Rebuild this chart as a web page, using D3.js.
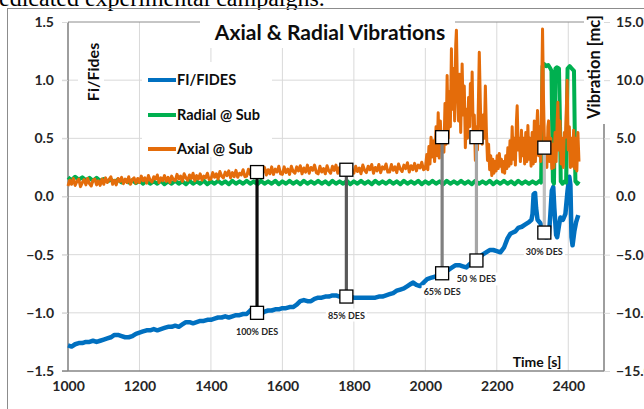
<!DOCTYPE html>
<html><head><meta charset="utf-8">
<script src="https://cdn.jsdelivr.net/npm/d3@7"></script>
<style>body{margin:0;background:#fff;overflow:hidden}svg{display:block}</style>
</head><body>
<svg id="c" width="644" height="409"></svg>
<script>
// ---------- data ----------
const xTicks = [1000, 1200, 1400, 1600, 1800, 2000, 2200, 2400];
const leftTicks = [-1.5, -1.0, -0.5, 0.0, 0.5, 1.0, 1.5];
const rightTicks = [-15, -10, -5, 0, 5, 10, 15];
const seriesNames = ["FI/FIDES", "Radial @ Sub", "Axial @ Sub"];

// FI/FIDES (left axis) [time, value]
const fidesPoints = [
[1000,-1.28],[1010,-1.29],[1020,-1.27],[1030,-1.26],[1040,-1.26],[1050,-1.25],[1060,-1.25],[1070,-1.24],[1080,-1.25],[1090,-1.24],
[1100,-1.23],[1110,-1.22],[1120,-1.21],[1130,-1.19],[1140,-1.19],[1150,-1.2],[1160,-1.21],[1170,-1.21],[1180,-1.2],[1190,-1.18],
[1200,-1.17],[1210,-1.16],[1220,-1.15],[1230,-1.15],[1240,-1.14],[1250,-1.15],[1260,-1.14],[1270,-1.13],[1280,-1.12],[1290,-1.12],
[1300,-1.11],[1310,-1.12],[1320,-1.1],[1330,-1.08],[1340,-1.08],[1350,-1.09],[1360,-1.08],[1370,-1.07],[1380,-1.07],[1390,-1.06],
[1400,-1.06],[1410,-1.05],[1420,-1.04],[1430,-1.04],[1440,-1.03],[1450,-1.04],[1460,-1.03],[1470,-1.02],[1480,-1.02],[1490,-1.01],
[1500,-1.01],[1510,-0.98],[1515,-0.97],[1520,-0.98],[1530,-1.0],[1540,-1.01],[1550,-0.99],[1560,-0.98],[1570,-0.98],[1580,-0.97],
[1590,-0.97],[1600,-0.96],[1610,-0.96],[1620,-0.95],[1630,-0.95],[1640,-0.93],[1650,-0.9],[1660,-0.89],[1670,-0.9],[1680,-0.9],
[1690,-0.88],[1700,-0.87],[1710,-0.87],[1720,-0.86],[1730,-0.86],[1740,-0.85],[1750,-0.85],[1760,-0.86],[1770,-0.86],[1780,-0.86],
[1790,-0.86],[1800,-0.87],[1810,-0.87],[1820,-0.87],[1830,-0.87],[1840,-0.87],[1850,-0.87],[1860,-0.87],[1870,-0.86],[1880,-0.86],
[1890,-0.85],[1900,-0.84],[1910,-0.83],[1920,-0.81],[1930,-0.8],[1940,-0.79],[1950,-0.77],[1960,-0.75],[1966,-0.74],[1975,-0.76],
[1985,-0.77],[1995,-0.74],[2005,-0.71],[2015,-0.7],[2025,-0.69],[2035,-0.68],[2047,-0.66],[2055,-0.65],[2065,-0.63],[2075,-0.61],
[2085,-0.59],[2095,-0.59],[2105,-0.6],[2115,-0.61],[2125,-0.58],[2135,-0.56],[2143,-0.55],[2150,-0.53],[2160,-0.5],[2170,-0.48],
[2180,-0.46],[2190,-0.46],[2200,-0.47],[2210,-0.48],[2220,-0.44],[2230,-0.36],[2238,-0.32],[2245,-0.31],[2252,-0.3],[2260,-0.27],
[2270,-0.26],[2280,-0.24],[2290,-0.22],[2297,-0.2],[2300,-0.15],[2303,0.02],[2307,0.03],[2310,-0.1],[2314,-0.2],[2322,-0.23],
[2330,-0.3],[2336,-0.35],[2341,-0.35],[2346,-0.33],[2350,-0.15],[2354,0.05],[2358,0.08],[2361,-0.1],[2366,-0.33],[2369,-0.35],
[2374,-0.25],[2378,-0.18],[2385,-0.2],[2392,-0.15],[2398,0.05],[2403,0.17],[2406,0.1],[2409,-0.35],[2412,-0.42],[2417,-0.3],
[2422,-0.22],[2428,-0.16]
];

// Radial @ Sub (right axis): values every 10 s from 1000 to 2320, then extra points
const radialStart = 1000, radialStep = 10;
const radialBase = [
1.65,1.4,1.7,1.45,1.65,1.4,1.6,1.35,1.6,1.35,
1.5,1.3,1.45,1.25,1.45,1.2,1.4,1.2,1.4,1.15,
1.35,1.1,1.35,1.1,1.3,1.1,1.35,1.05,1.3,1.1,
1.35,1.1,1.3,1.05,1.35,1.1,1.3,1.1,1.35,1.05,
1.3,1.1,1.35,1.1,1.3,1.05,1.35,1.1,1.3,1.1,
1.35,1.1,1.3,1.05,1.35,1.1,1.3,1.1,1.35,1.05,
1.3,1.1,1.35,1.1,1.3,1.05,1.35,1.1,1.3,1.1,
1.35,1.1,1.3,1.05,1.35,1.1,1.3,1.1,1.35,1.05,
1.3,1.1,1.35,1.1,1.3,1.05,1.35,1.1,1.3,1.1,
1.35,1.1,1.3,1.05,1.35,1.1,1.3,1.1,1.35,1.05,
1.3,1.1,1.35,1.1,1.3,1.05,1.35,1.1,1.3,1.1,
1.35,1.1,1.3,1.05,1.35,1.1,1.3,1.1,1.35,1.05,
1.3,1.1,1.35,1.1,1.3,1.05,1.35,1.1,1.3,1.1,
1.3,1.1,1.35
];
const radialTail = [
[2324,1.2],[2326,6.0],[2328,11.2],[2332,11.4],[2338,11.2],[2344,11.3],[2350,11.0],[2353,10.8],[2355,6.0],[2357,1.3],
[2360,1.1],[2362,6.0],[2364,11.0],[2368,11.1],[2374,11.0],[2377,6.0],[2379,1.3],[2384,1.1],[2390,1.3],[2394,1.2],
[2396,6.0],[2398,11.0],[2404,11.2],[2410,11.0],[2416,10.8],[2418,6.0],[2420,1.3],[2425,1.1],[2430,1.3]
];

// Axial @ Sub (right axis): values every 5 s from 1000 to 1995, then extra points
const axialStart = 1000, axialStep = 5;
const axialBase = [
0.9,1.4,1.05,1.55,0.95,1.3,1.5,0.85,1.2,1.45,1.0,1.55,1.1,0.9,1.4,1.5,1.0,1.35,0.95,1.5,
1.05,1.6,1.2,1.45,1.7,1.05,1.4,1.0,1.55,1.3,1.65,1.1,1.5,1.2,1.7,1.05,1.45,1.6,1.15,1.55,
1.2,1.75,1.35,1.6,1.15,1.8,1.4,1.25,1.7,1.5,1.85,1.2,1.6,1.35,1.8,1.3,1.65,1.2,1.75,1.45,
1.35,1.9,1.5,1.75,1.3,1.95,1.6,1.4,1.85,1.55,2.0,1.35,1.8,1.5,1.95,1.4,1.75,1.6,2.0,1.45,
1.5,2.05,1.65,1.95,1.5,2.15,1.75,1.6,2.1,1.8,2.2,1.6,2.05,1.7,2.25,1.65,2.0,1.85,2.3,1.7,
1.75,2.35,1.9,2.2,1.8,2.45,2.0,1.85,2.4,2.05,2.5,1.85,2.3,1.95,2.55,1.9,2.35,2.1,2.6,1.95,
1.9,2.55,2.05,2.35,1.9,2.6,2.15,2.0,2.55,2.2,2.65,1.95,2.45,2.1,2.7,2.0,2.5,2.25,2.7,2.05,
1.95,2.6,2.1,2.4,1.95,2.65,2.2,2.0,2.6,2.25,2.7,2.0,2.5,2.15,2.75,2.0,2.55,2.3,2.7,2.1,
2.0,2.6,2.15,2.45,1.95,2.7,2.25,2.05,2.6,2.3,2.75,2.0,2.5,2.2,2.75,2.05,2.55,2.35,2.8,2.1,
2.1,2.75,2.25,2.55,2.05,2.8,2.35,2.15,2.7,2.4,2.9,2.1,2.65,2.3,2.85,2.2,2.7,2.45,2.95,2.3
];
const axialTail = [
[2000,2.4],[2004,3.6],[2007,2.3],[2010,4.3],[2013,2.8],[2016,5.1],[2019,3.4],[2023,4.8],[2026,3.0],[2030,6.0],
[2033,3.5],[2036,7.2],[2039,3.3],[2042,6.5],[2045,4.0],[2049,5.5],[2052,3.8],[2055,8.0],[2058,4.5],[2061,10.4],
[2064,5.0],[2067,9.0],[2070,6.0],[2073,12.7],[2076,7.5],[2079,11.0],[2082,6.5],[2085,13.0],[2087,14.3],[2090,9.0],
[2093,6.5],[2096,10.5],[2099,5.5],[2103,11.4],[2106,7.0],[2109,9.5],[2112,4.2],[2115,7.5],[2118,5.0],[2121,8.5],
[2124,6.0],[2126,9.7],[2129,7.0],[2131,10.7],[2134,5.5],[2137,7.0],[2140,3.1],[2143,6.0],[2146,4.0],[2149,9.0],
[2151,12.4],[2154,8.0],[2156,5.5],[2159,4.5],[2162,7.0],[2165,5.0],[2168,9.5],[2171,5.5],[2174,3.1],[2177,4.5],
[2180,2.3],[2183,3.5],[2186,1.8],[2189,3.2],[2192,2.0],[2195,3.0],[2198,2.2],[2201,3.5],[2204,2.4],[2207,3.7],
[2210,2.6],[2213,3.2],[2216,2.1],[2219,3.0],[2222,2.0],[2225,3.5],[2228,2.4],[2231,4.2],[2234,2.6],[2237,4.8],
[2240,2.8],[2243,6.0],[2246,3.2],[2249,5.0],[2252,2.7],[2255,6.5],[2257,7.8],[2260,4.0],[2263,5.0],[2266,3.0],
[2269,5.7],[2272,3.5],[2275,5.0],[2278,2.8],[2281,5.5],[2284,3.0],[2287,6.1],[2290,3.2],[2293,5.0],[2296,2.6],
[2299,5.5],[2302,2.8],[2305,6.5],[2308,3.0],[2311,5.5],[2314,7.4],[2317,3.5],[2320,6.0],[2323,3.0],[2326,10.0],
[2328,14.4],[2331,8.0],[2334,3.7],[2337,5.0],[2340,2.5],[2343,6.0],[2345,6.5],[2348,3.0],[2351,5.0],[2354,2.4],
[2357,4.5],[2360,2.5],[2363,5.5],[2366,3.0],[2369,6.5],[2371,8.1],[2374,4.0],[2377,6.5],[2380,2.8],[2383,5.0],
[2386,2.5],[2389,5.5],[2392,5.1],[2395,8.0],[2397,10.0],[2400,4.0],[2403,6.0],[2406,2.5],[2409,5.0],[2412,2.6],
[2415,5.7],[2418,2.4],[2421,5.0],[2424,2.2],[2427,5.5],[2430,3.0]
];

// DES annotations
const desLabels = ["100% DES", "85% DES", "65% DES", "50 % DES", "30% DES"];
const desTimes = [1529, 1779, 2047, 2143, 2333];
const desAxial = [2.1, 2.3, 5.1, 5.1, 4.2];
const desFides = [-1.0, -0.86, -0.66, -0.55, -0.31];

// ---------- styles ----------
const seriesColors = ["#0070C0", "#00B050", "#E46C0A"];
const connectorColors = ["#0d0d0d", "#595959", "#808080", "#a6a6a6", "#bfbfbf"];
const FONT = "Lato, 'Open Sans', sans-serif";

// ---------- build ----------
const radialPoints = radialBase.map((v, i) => [radialStart + i * radialStep, v]).concat(radialTail);
const axialPoints = axialBase.map((v, i) => [axialStart + i * axialStep, v]).concat(axialTail);

const L = 68, R = 604, T = 22, B = 371;
const x = d3.scaleLinear().domain([1000, 2500]).range([L, R]);
const yL = d3.scaleLinear().domain([-1.5, 1.5]).range([B, T]);
const yR = d3.scaleLinear().domain([-15, 15]).range([B, T]);

const svg = d3.select("#c");
svg.append("rect").attr("width", 644).attr("height", 409).attr("fill", "#fff");

// top text fragment (page text above figure)
svg.append("text").attr("x", -1).attr("y", 5.5)
  .attr("font-family", "'Liberation Serif', 'Times New Roman', serif").attr("font-size", 24)
  .attr("fill", "#000").text("edicated experimental campaigns.");

// outer frame
svg.append("rect").attr("x", 7.5).attr("y", 8.5).attr("width", 700).attr("height", 500)
  .attr("fill", "none").attr("stroke", "#8c8c8c").attr("stroke-width", 1);

// gridlines
const grid = svg.append("g");
grid.selectAll(".vg").data(xTicks.slice(1)).join("line")
  .attr("x1", d => x(d)).attr("x2", d => x(d)).attr("y1", T).attr("y2", B)
  .attr("stroke", "#d9d9d9").attr("stroke-width", 1);
grid.selectAll(".hg").data(leftTicks.slice(1, -1)).join("line")
  .attr("x1", L - 6).attr("x2", R).attr("y1", d => yL(d)).attr("y2", d => yL(d))
  .attr("stroke", "#d9d9d9").attr("stroke-width", 1);

// plot border
svg.append("line").attr("x1", L).attr("x2", R).attr("y1", T).attr("y2", T).attr("stroke", "#8c8c8c").attr("stroke-width", 1);

// axes
const axL = svg.append("g").attr("transform", `translate(${L},0)`)
  .call(d3.axisLeft(yL).tickValues(leftTicks).tickFormat(d3.format(".1f")).tickSize(6).tickPadding(8));
const axB = svg.append("g").attr("transform", `translate(0,${B})`)
  .call(d3.axisBottom(x).tickValues(xTicks).tickFormat(d3.format("d")).tickSize(0).tickPadding(10));

// white label boxes
function box(x0, y0, w, h) {
  svg.append("rect").attr("x", x0).attr("y", y0).attr("width", w).attr("height", h).attr("fill", "#fff");
}
box(200, 10, 255, 38);    // title
box(78, 38, 26, 70);      // Fi/Fides
box(584, 10, 22, 114);    // Vibration
box(142, 62, 130, 95);    // legend

const axR = svg.append("g").attr("transform", `translate(${R},0)`)
  .call(d3.axisRight(yR).tickValues(rightTicks).tickFormat(d3.format(".1f")).tickSize(6).tickPadding(6));

[axL, axR, axB].forEach(a => {
  a.select(".domain").attr("stroke", "#868686").attr("stroke-width", 1.6);
  a.selectAll(".tick line").attr("stroke", "#d9d9d9");
  a.selectAll("text").attr("font-family", FONT).attr("font-weight", "bold")
    .attr("font-size", 14).attr("fill", "#262626");
});
axL.select(".domain").attr("d", `M0,${T}V${B}`);
axR.select(".domain").attr("d", `M0,124V${B}`);
axB.select(".domain").attr("d", `M${L - 6},0H${R}`);

svg.append("text").attr("x", 330).attr("y", 40).attr("text-anchor", "middle")
  .attr("font-family", FONT).attr("font-weight", "bold").attr("font-size", 21).attr("fill", "#0d0d0d")
  .text("Axial & Radial Vibrations");
svg.append("text").attr("transform", "translate(99,72) rotate(-90)").attr("text-anchor", "middle")
  .attr("font-family", FONT).attr("font-weight", "bold").attr("font-size", 16).attr("fill", "#0d0d0d")
  .text("Fi/Fides");
svg.append("text").attr("transform", "translate(600,67) rotate(-90)").attr("text-anchor", "middle")
  .attr("font-family", FONT).attr("font-weight", "bold").attr("font-size", 16.5).attr("fill", "#0d0d0d")
  .text("Vibration [mc]");
svg.append("text").attr("x", 537).attr("y", 367).attr("text-anchor", "middle")
  .attr("font-family", FONT).attr("font-weight", "bold").attr("font-size", 14).attr("fill", "#0d0d0d")
  .text("Time [s]");

// legend
const legY = [80, 115, 149];
const leg = svg.append("g");
seriesNames.forEach((n, i) => {
  leg.append("line").attr("x1", 148).attr("x2", 176).attr("y1", legY[i]).attr("y2", legY[i])
    .attr("stroke", seriesColors[i]).attr("stroke-width", 4);
  leg.append("text").attr("x", 177).attr("y", legY[i] + 5)
    .attr("font-family", FONT).attr("font-weight", "bold").attr("font-size", 14.5).attr("fill", "#0d0d0d").text(n);
});

// series
const lineL = d3.line().x(d => x(d[0])).y(d => yL(d[1]));
const lineR = d3.line().x(d => x(d[0])).y(d => yR(d[1]));
svg.append("path").datum(fidesPoints).attr("d", lineL).attr("fill", "none")
  .attr("stroke", seriesColors[0]).attr("stroke-width", 4.5).attr("stroke-linejoin", "round");
svg.append("path").datum(radialPoints).attr("d", lineR).attr("fill", "none")
  .attr("stroke", seriesColors[1]).attr("stroke-width", 4).attr("stroke-linejoin", "round");
svg.append("path").datum(axialPoints).attr("d", lineR).attr("fill", "none")
  .attr("stroke", seriesColors[2]).attr("stroke-width", 3).attr("stroke-linejoin", "round");

// DES annotations
const ann = svg.append("g");
desLabels.forEach((lab, i) => {
  const cx = x(desTimes[i]), yt = yR(desAxial[i]), yb = yL(desFides[i]);
  ann.append("line").attr("x1", cx).attr("x2", cx).attr("y1", yt).attr("y2", yb)
    .attr("stroke", connectorColors[i]).attr("stroke-width", 3.2);
  [yt, yb].forEach(yy => ann.append("rect").attr("x", cx - 6.5).attr("y", yy - 6.5)
    .attr("width", 13).attr("height", 13).attr("fill", "#fff").attr("stroke", "#000").attr("stroke-width", 1.3));
  const t = ann.append("text").attr("x", cx).attr("y", yb + 22).attr("text-anchor", "middle")
    .attr("font-family", FONT).attr("font-weight", "bold").attr("font-size", 9).attr("fill", "#262626").text(lab);
  const bb = t.node().getBBox();
  ann.insert("rect", () => t.node()).attr("x", bb.x - 2).attr("y", bb.y - 1)
    .attr("width", bb.width + 4).attr("height", bb.height + 2).attr("fill", "#fff");
});
</script>
</body></html>
